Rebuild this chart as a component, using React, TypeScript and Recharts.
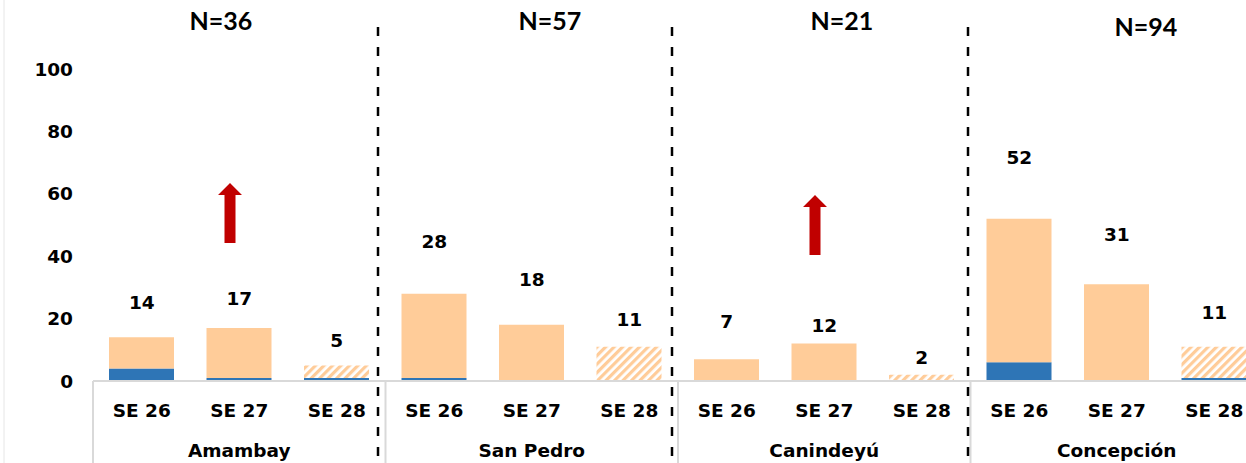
import React from 'react';
import { ComposedChart, Bar, Line, XAxis, YAxis, Cell, LabelList } from 'recharts';

const regions = ['Amambay', 'San Pedro', 'Canindeyú', 'Concepción'];
const regionN = ['N=36', 'N=57', 'N=21', 'N=94'];
const weeks = ['SE 26', 'SE 27', 'SE 28'];
const totals = [14, 17, 5, 28, 18, 11, 7, 12, 2, 52, 31, 11];
const blueValues = [4, 1, 1, 1, 0, 0, 0, 0, 0, 6, 0, 1];
const labelPos = [25.3, 26.5, 13.1, 44.6, 32.4, 19.6, 19.2, 17.9, 7.6, 71.5, 47.1, 22.1];
const yTicks = [0, 20, 40, 60, 80, 100];

const data = totals.map((t, i) => ({
  key: `${regions[Math.floor(i / 3)]}-${weeks[i % 3]}`,
  week: weeks[i % 3],
  region: regions[Math.floor(i / 3)],
  blue: blueValues[i],
  orange: t - blueValues[i],
  total: t,
  labelPos: labelPos[i],
}));

const W = 1270;
const H = 463;
const M = { top: 69, right: 7, bottom: 0, left: 33 };
const YW = 60;
const PLOT_L = M.left + YW;
const BAND = (W - PLOT_L - M.right) / 12;
const AXIS_Y = 381;

const FONT = '"DejaVu Sans", Inter, sans-serif';
const FS = 18.5;
const ORANGE = '#FFCC99';
const BLUE = '#2E75B6';

const XTick = (props: any) => {
  const { x, payload, index } = props;
  const d = data[index];
  return (
    <g>
      {index % 3 === 0 && (
        <line x1={x - BAND / 2} x2={x - BAND / 2} y1={AXIS_Y} y2={H} stroke="#D9D9D9" strokeWidth={2} />
      )}
      {index === 11 && (
        <line x1={x + BAND / 2} x2={x + BAND / 2} y1={AXIS_Y} y2={H} stroke="#D9D9D9" strokeWidth={2} />
      )}
      <text x={x} y={417} textAnchor="middle" fontFamily={FONT} fontWeight={700} fontSize={FS} fill="#000">
        {d ? d.week : payload.value}
      </text>
      {index % 3 === 1 && d && (
        <text x={x} y={457} textAnchor="middle" fontFamily={FONT} fontWeight={700} fontSize={FS} fill="#000">
          {d.region}
        </text>
      )}
    </g>
  );
};

const dashedX = [378, 672, 968];
const nLabelPos = [
  { x: 221, y: 30 },
  { x: 550, y: 30 },
  { x: 842, y: 30 },
  { x: 1146, y: 36 },
];
const arrows = [
  { x: 230, top: 183, bottom: 243 },
  { x: 815, top: 195, bottom: 255 },
];

export default function App() {
  return (
    <div style={{ position: 'absolute', left: 0, top: 0, width: 1246, height: 463, overflow: 'hidden', background: '#fff' }}>
      <svg width={0} height={0} style={{ position: 'absolute' }}>
        <defs>
          <pattern id="hatch" patternUnits="userSpaceOnUse" width={6} height={6} patternTransform="rotate(45)">
            <rect x={0} y={0} width={6} height={6} fill="#ffffff" />
            <rect x={0} y={0} width={3.2} height={6} fill={ORANGE} />
          </pattern>
        </defs>
      </svg>
      <ComposedChart width={W} height={H} data={data} margin={M}>
        <XAxis
          dataKey="key"
          interval={0}
          height={H - AXIS_Y}
          tickLine={false}
          axisLine={{ stroke: '#D9D9D9', strokeWidth: 2 }}
          tick={<XTick />}
        />
        <YAxis
          width={YW}
          domain={[0, 100]}
          ticks={yTicks}
          tickLine={false}
          axisLine={false}
          tickMargin={14}
          tick={{ fontFamily: FONT, fontWeight: 700, fontSize: FS, fill: '#000' }}
        />
        <Bar dataKey="blue" stackId="a" fill={BLUE} barSize={65} isAnimationActive={false} />
        <Bar dataKey="orange" stackId="a" barSize={65} isAnimationActive={false}>
          {data.map((d, i) => (
            <Cell key={d.key} fill={i % 3 === 2 ? 'url(#hatch)' : ORANGE} />
          ))}
        </Bar>
        <Line
          dataKey="labelPos"
          stroke="none"
          dot={false}
          activeDot={false}
          legendType="none"
          isAnimationActive={false}
        >
          <LabelList
            dataKey="total"
            position="center"
            fontFamily={FONT}
            fontWeight={700}
            fontSize={FS}
            fill="#000"
          />
        </Line>
      </ComposedChart>
      <svg width={1246} height={463} style={{ position: 'absolute', left: 0, top: 0, pointerEvents: 'none' }}>
        <line x1={4} x2={4} y1={0} y2={463} stroke="#E6E6E6" strokeWidth={1} />
        {dashedX.map((x) => (
          <line key={x} x1={x} x2={x} y1={27} y2={463} stroke="#000" strokeWidth={2.5} strokeDasharray="9 11" />
        ))}
        {regionN.map((t, i) => (
          <text
            key={t}
            x={nLabelPos[i].x}
            y={nLabelPos[i].y}
            textAnchor="middle"
            fontFamily='Lato, "Liberation Sans", sans-serif'
            fontWeight={700}
            fontSize={25}
            fill="#000"
          >
            {t}
          </text>
        ))}
        {arrows.map((a, i) => (
          <polygon
            key={i}
            fill="#C00000"
            points={`${a.x - 5.5},${a.bottom} ${a.x + 5.5},${a.bottom} ${a.x + 5.5},${a.top + 12} ${a.x + 12},${a.top + 12} ${a.x},${a.top} ${a.x - 12},${a.top + 12} ${a.x - 5.5},${a.top + 12}`}
          />
        ))}
      </svg>
    </div>
  );
}
